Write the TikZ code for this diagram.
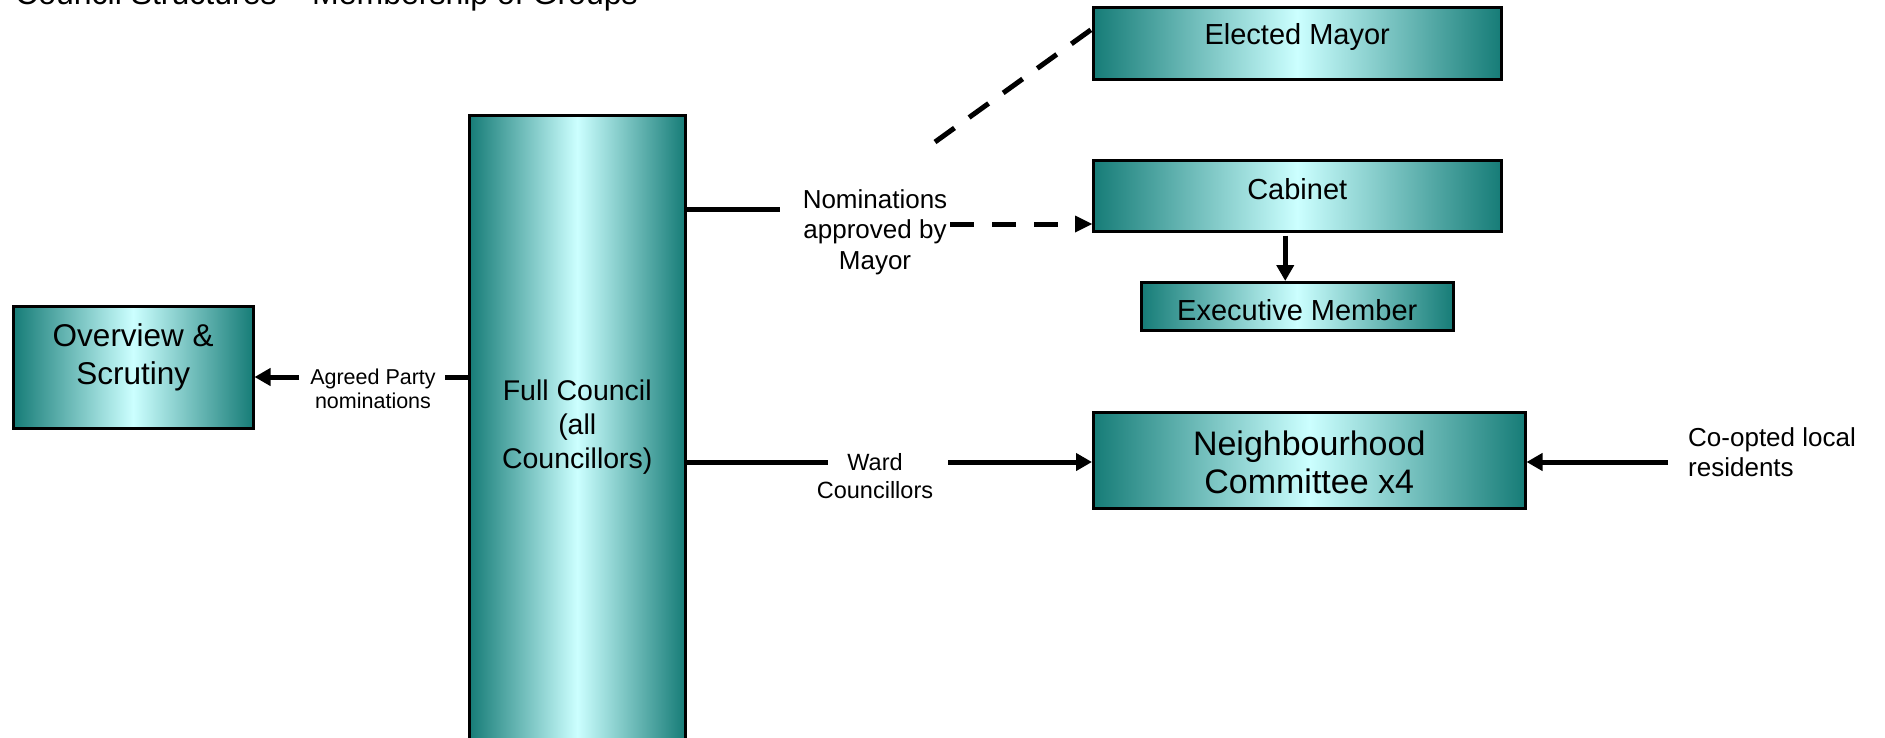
\documentclass[tikz,border=0pt]{standalone}
\usepackage{fontspec}
\setmainfont{Liberation Sans}
\usetikzlibrary{arrows.meta}
\definecolor{tealdark}{RGB}{22,124,119}
\definecolor{tealmid}{RGB}{204,255,255}
\begin{document}
\begin{tikzpicture}[x=1pt,y=-1pt,
  box/.style={draw=black,line width=2.5pt,inner sep=0pt,anchor=north west,
    left color=tealdark,right color=tealdark,middle color=tealmid},
  boxtext/.style={align=center,inner sep=0pt,font=#1},
  conn/.style={line width=5pt},
  arr/.style={line width=5pt,-{Triangle[length=16pt,width=17pt]}},
  dashline/.style={line width=5pt,dash pattern=on 24pt off 18pt},
  lbl/.style={align=center,inner sep=0pt}
]
\useasboundingbox (0,0) rectangle (1885,737);

% title
\node[anchor=base west,inner sep=0pt,font=\fontsize{32}{37}\selectfont] (title) at (15,4) {Council Structures – Membership of Groups};

% boxes
\node[box,minimum width=408pt,minimum height=72pt,
  label={[boxtext=\fontsize{29}{33}\selectfont,yshift=6pt]center:Elected Mayor}] (mayor) at (1092,6) {};
\node[box,minimum width=408pt,minimum height=71pt,
  label={[boxtext=\fontsize{29}{33}\selectfont,yshift=7pt]center:Cabinet}] (cab) at (1092,159) {};
\node[box,minimum width=312pt,minimum height=48pt,
  label={[boxtext=\fontsize{29}{33}\selectfont,yshift=-4pt]center:Executive Member}] (exec) at (1140,281) {};
\node[box,minimum width=240pt,minimum height=122pt,
  label={[boxtext=\fontsize{31.5}{37.5}\selectfont,yshift=10pt]center:Overview \&\\Scrutiny}] (ov) at (12,305) {};
\node[box,minimum width=216pt,minimum height=640pt,
  label={[boxtext=\fontsize{28.5}{33.7}\selectfont,yshift=8pt]center:Full Council\\(all\\Councillors)}] (fc) at (468,114) {};
\node[box,minimum width=432pt,minimum height=96pt,
  label={[boxtext=\fontsize{34}{38.5}\selectfont,yshift=-2pt]center:Neighbourhood\\Committee x4}] (nb) at (1092,411) {};

% labels
\node[lbl,font=\fontsize{26}{30.6}\selectfont] (nom) at (875,232) {Nominations\\approved by\\Mayor};
\node[lbl,font=\fontsize{21.5}{24}\selectfont] (agr) at (373,389) {Agreed Party\\nominations};
\node[lbl,font=\fontsize{23.5}{27.5}\selectfont] (ward) at (875,476) {Ward\\Councillors};
\node[lbl,align=left,anchor=west,font=\fontsize{26}{30}\selectfont] (copt) at (1688,452) {Co-opted local\\residents};

% connector end points
\coordinate (nomA) at (780,209);
\coordinate (nomB) at (950,224);
\coordinate (nomC) at (935,142);
\coordinate (mayA) at (1092,29);
\coordinate (wardA) at (828,462);
\coordinate (wardB) at (948,462);
\coordinate (coptA) at (1668,462);
\coordinate (agA) at (445,377);
\coordinate (agB) at (299,377);

% connectors
\draw[conn] (fc.east |- nomA) -- (nomA);
\draw[dashline] (nomB) -- ([xshift=-14pt]cab.west |- nomB);
\fill (cab.west |- nomB) -- ++(-17,-8.5) -- ++(0,17) -- cycle;
\draw[dashline] (nomC) -- (mayA);
\draw[conn] (fc.east |- wardA) -- (wardA);
\draw[arr] (wardB) -- (nb.west |- wardB);
\draw[arr] (coptA) -- (nb.east |- coptA);
\draw[arr] ([xshift=-12pt,yshift=-3pt]cab.south) -- ([xshift=-12pt]exec.north);
\draw[conn] (fc.west |- agA) -- (agA);
\draw[arr] (agB) -- (ov.east |- agB);
\end{tikzpicture}
\end{document}
